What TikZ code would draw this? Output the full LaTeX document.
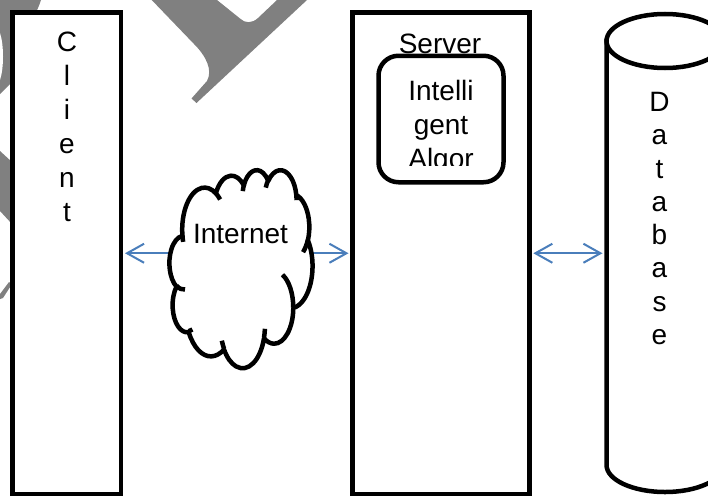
\documentclass[tikz,border=0pt]{standalone}
\usepackage{fontspec}
\setmainfont{Liberation Sans}
\usetikzlibrary{arrows.meta}
\definecolor{arrowblue}{HTML}{4A7EBB}
\definecolor{wmgrey}{HTML}{808080}
% Office-style arcTo: wR hR stAng swAng (degrees, visual angles)
\newcommand\oocalc[4]{%
  \pgfmathsetmacro\ootmpa{atan2((#1)*sin(#3),(#2)*cos(#3))}%
  \pgfmathsetmacro\ootmpb{atan2((#1)*sin((#3)+(#4)),(#2)*cos((#3)+(#4)))}%
  \pgfmathsetmacro\ootmpd{\ootmpb-\ootmpa}%
  \pgfmathsetmacro\ootmpe{\ootmpa+\ootmpd-360*round((\ootmpd-(#4))/360)}%
  \global\let\ooa\ootmpa
  \global\let\oob\ootmpe
}
\newcommand\ooarc[4]{\pgfextra{\oocalc{#1}{#2}{#3}{#4}} arc[start angle=\ooa, end angle=\oob, x radius=#1pt, y radius=#2pt]}
\begin{document}
\begin{tikzpicture}[x=1pt,y=-1pt,
  frame/.style={draw=black, line width=4.5pt, fill=white},
  box/.style={frame, rectangle, inner sep=0pt, outer sep=0pt},
  lbl/.style={font=\fontsize{28}{33.6}\selectfont, inner sep=0pt, anchor=base},
  link/.style={draw=arrowblue, line width=2pt,
    arrows={Straight Barb[length=17pt,width=19pt]-Straight Barb[length=17pt,width=19pt]},
    shorten <=4pt, shorten >=4pt}]
\useasboundingbox (0,0) rectangle (708,495);

% watermark fragments
\fill[wmgrey] (151.7,0) -- (194,44) .. controls (206,56) and (213,70) .. (207,81)
  -- (191.5,98.5) -- (196.5,103) -- (307,0) -- (277,0) -- (258,18)
  .. controls (252,23.5) and (245,23.5) .. (240,18.5) -- (217,0) -- cycle;
\fill[wmgrey] (0,0) -- (41,0) .. controls (39,6) and (37,11) .. (34,16) -- (12,82) -- (0,94) -- cycle;
\fill[white] (0,33) .. controls (4,45) and (4,68) .. (0,80) -- cycle;
\fill[wmgrey] (0,151) -- (12,162) -- (12,224) -- (0,211) -- cycle;
\fill[wmgrey] (0,294) -- (9,282) -- (12,284) -- (3,298) -- (0,299) -- cycle;

% boxes
\node[box, minimum width=108.5pt, minimum height=481.5pt] (client) at (66.75,253.25) {};
\node[box, minimum width=176.8pt, minimum height=481.5pt] (server) at (440.9,253.25) {};

% database cylinder
\draw[frame] (606.5,41) -- (606.5,465) arc[start angle=180, end angle=360, x radius=58.5pt, y radius=27pt] -- (723.5,41) -- cycle;
\draw[frame] (665,41) ellipse[x radius=58.5pt, y radius=27pt];
\node[inner sep=0pt, outer sep=0pt, minimum width=117pt, minimum height=424pt] (database) at (665,253.25) {};

% connectors
\draw[link] (client.east) -- (server.west);
\draw[link] (server.east) -- (database.west);

% internet cloud
\begin{scope}[shift={(169.5,169.5)}, xscale=0.033102, yscale=-0.045833]
\draw[line width=4.5pt, fill=white, line join=round] (390pt,1437pt)
  \ooarc{675.3}{919}{-190.4875}{123.7805}
  \ooarc{533.3}{726.7}{-144.1024}{89.9452}
  \ooarc{436.5}{594.5}{-145.8079}{99.7230}
  \ooarc{485.7}{659.5}{-130.9861}{117.2417}
  \ooarc{533.3}{727.3}{-78.7089}{109.0269}
  \ooarc{677.5}{922}{-46.2673}{130.2690}
  \ooarc{578.5}{786.7}{0.6250}{114.0333}
  \ooarc{675.2}{921.5}{22.4516}{115.1726}
  \ooarc{772}{1054.3}{66.2426}{75.7110}
  \ooarc{436}{591.8}{-274.9421}{146.7356}
  \ooarc{434.5}{594.5}{-246.8285}{152.5189} -- cycle;
\draw[line width=4.5pt]
  (469.3pt,2617.7pt) \ooarc{434.5}{594.5}{86.7420}{26.4295}
  (692.8pt,3489.9pt) \ooarc{436}{591.8}{73.6105}{11.4475}
  (1647.8pt,3909pt) \ooarc{675.2}{921.5}{137.6242}{14.0811}
  (2882.7pt,3475.1pt) \ooarc{675.2}{921.5}{6.4533}{15.9984}
  (3412.9pt,2295.4pt) \ooarc{578.5}{786.7}{-70.2924}{70.9174}
  (4179.8pt,1535.4pt) \ooarc{533.3}{727.3}{30.3180}{27.7515}
  (3832.4pt,542.6pt) \ooarc{485.7}{659.5}{-13.7443}{14.8589}
  (2907.8pt,395.2pt) \ooarc{485.7}{659.5}{-149.1815}{18.1954}
  (2214.1pt,472pt) \ooarc{436.5}{594.5}{-163.4943}{17.6864}
  (1400pt,519.2pt) \ooarc{675.3}{919}{-66.7070}{12.3194}
  (412.7pt,1578.9pt) \ooarc{675.3}{919}{157.6544}{11.8582};
\end{scope}
\node[lbl] (internet) at (240.5,243) {Internet};

% server contents
\node[lbl] (serverlabel) at (440,53.5) {Server};
\node[box, rounded corners=20pt, minimum width=125pt, minimum height=126.5pt] (algo) at (441,119) {};
\begin{scope}
\clip (378,58) rectangle (504,165);
\node[lbl] (algo1) at (441,100) {Intelli};
\node[lbl] (algo2) at (441,134) {gent};
\node[lbl] (algo3) at (441,168) {Algor};
\end{scope}

% vertical labels
\foreach \ch [count=\k from 0] in {C,l,i,e,n,t}
  \node[lbl] (client-\k) at (67,51.5+34*\k) {\ch};
\foreach \ch [count=\k from 0] in {D,a,t,a,b,a,s,e}
  \node[lbl] (db-\k) at (659.5,111.7+33.25*\k) {\ch};
\end{tikzpicture}
\end{document}
